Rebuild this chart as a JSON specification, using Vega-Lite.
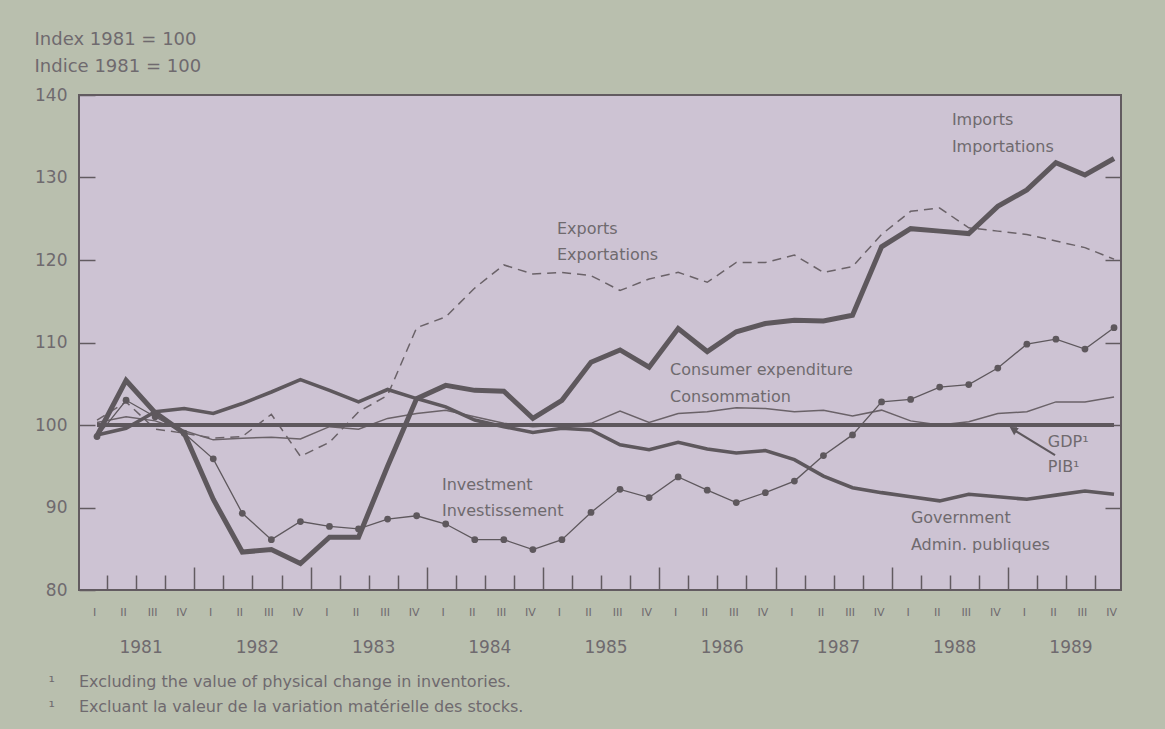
{
  "$schema": "https://vega.github.io/schema/vega-lite/v6.json",
  "width": 1042,
  "height": 495,
  "autosize": {"type": "none"},
  "padding": {"left": 79, "top": 95, "right": 44, "bottom": 139},
  "background": "#b9bfae",
  "config": {
    "view": {"fill": "#cdc3d3", "stroke": "#625b60", "strokeWidth": 2},
    "font": "DejaVu Sans",
    "axis": {"labelFont": "DejaVu Sans", "titleFont": "DejaVu Sans", "labelColor": "#6f6a6e", "titleColor": "#6f6a6e", "tickColor": "#625b60", "grid": false}
  },
  "title": {
    "text": ["Index 1981 = 100", "Indice 1981 = 100"],
    "anchor": "start",
    "frame": "bounds",
    "font": "DejaVu Sans",
    "fontSize": 18,
    "fontWeight": "normal",
    "color": "#6f6a6e",
    "lineHeight": 27,
    "offset": 10
  },
  "datasets": {
    "series": [
      {"i": 0, "GDP": 100, "Imports": 98.7, "Exports": 100.6, "Consumer": 100.3, "Investment": 98.6, "Government": 98.8},
      {"i": 1, "GDP": 100, "Imports": 105.4, "Exports": 102.8, "Consumer": 101.0, "Investment": 103.0, "Government": 99.6},
      {"i": 2, "GDP": 100, "Imports": 101.5, "Exports": 99.5, "Consumer": 100.5, "Investment": 101.0, "Government": 101.6},
      {"i": 3, "GDP": 100, "Imports": 99.0, "Exports": 99.0, "Consumer": 99.3, "Investment": 99.0, "Government": 102.0},
      {"i": 4, "GDP": 100, "Imports": 91.0, "Exports": 98.4, "Consumer": 98.2, "Investment": 95.9, "Government": 101.4},
      {"i": 5, "GDP": 100, "Imports": 84.6, "Exports": 98.6, "Consumer": 98.4, "Investment": 89.3, "Government": 102.6},
      {"i": 6, "GDP": 100, "Imports": 84.9, "Exports": 101.3, "Consumer": 98.5, "Investment": 86.1, "Government": 104.0},
      {"i": 7, "GDP": 100, "Imports": 83.2, "Exports": 96.2, "Consumer": 98.3, "Investment": 88.3, "Government": 105.5},
      {"i": 8, "GDP": 100, "Imports": 86.4, "Exports": 97.9, "Consumer": 99.8, "Investment": 87.7, "Government": 104.2},
      {"i": 9, "GDP": 100, "Imports": 86.4, "Exports": 101.6, "Consumer": 99.5, "Investment": 87.4, "Government": 102.8},
      {"i": 10, "GDP": 100, "Imports": 95.0, "Exports": 103.6, "Consumer": 100.8, "Investment": 88.6, "Government": 104.3},
      {"i": 11, "GDP": 100, "Imports": 103.2, "Exports": 111.8, "Consumer": 101.4, "Investment": 89.0, "Government": 103.2},
      {"i": 12, "GDP": 100, "Imports": 104.8, "Exports": 113.1, "Consumer": 101.8, "Investment": 88.0, "Government": 102.2},
      {"i": 13, "GDP": 100, "Imports": 104.2, "Exports": 116.6, "Consumer": 101.0, "Investment": 86.1, "Government": 100.6},
      {"i": 14, "GDP": 100, "Imports": 104.1, "Exports": 119.4, "Consumer": 100.2, "Investment": 86.1, "Government": 99.8},
      {"i": 15, "GDP": 100, "Imports": 100.8, "Exports": 118.3, "Consumer": 99.8, "Investment": 84.9, "Government": 99.1},
      {"i": 16, "GDP": 100, "Imports": 103.0, "Exports": 118.5, "Consumer": 100.0, "Investment": 86.1, "Government": 99.6},
      {"i": 17, "GDP": 100, "Imports": 107.6, "Exports": 118.1, "Consumer": 100.2, "Investment": 89.4, "Government": 99.4},
      {"i": 18, "GDP": 100, "Imports": 109.1, "Exports": 116.3, "Consumer": 101.7, "Investment": 92.2, "Government": 97.6},
      {"i": 19, "GDP": 100, "Imports": 107.0, "Exports": 117.7, "Consumer": 100.3, "Investment": 91.2, "Government": 97.0},
      {"i": 20, "GDP": 100, "Imports": 111.7, "Exports": 118.5, "Consumer": 101.4, "Investment": 93.7, "Government": 97.9},
      {"i": 21, "GDP": 100, "Imports": 108.9, "Exports": 117.3, "Consumer": 101.6, "Investment": 92.1, "Government": 97.1},
      {"i": 22, "GDP": 100, "Imports": 111.3, "Exports": 119.7, "Consumer": 102.1, "Investment": 90.6, "Government": 96.6},
      {"i": 23, "GDP": 100, "Imports": 112.3, "Exports": 119.7, "Consumer": 102.0, "Investment": 91.8, "Government": 96.9},
      {"i": 24, "GDP": 100, "Imports": 112.7, "Exports": 120.6, "Consumer": 101.6, "Investment": 93.2, "Government": 95.8},
      {"i": 25, "GDP": 100, "Imports": 112.6, "Exports": 118.5, "Consumer": 101.8, "Investment": 96.3, "Government": 93.8},
      {"i": 26, "GDP": 100, "Imports": 113.3, "Exports": 119.2, "Consumer": 101.1, "Investment": 98.8, "Government": 92.4},
      {"i": 27, "GDP": 100, "Imports": 121.6, "Exports": 123.1, "Consumer": 101.8, "Investment": 102.8, "Government": 91.8},
      {"i": 28, "GDP": 100, "Imports": 123.8, "Exports": 125.9, "Consumer": 100.5, "Investment": 103.1, "Government": 91.3},
      {"i": 29, "GDP": 100, "Imports": 123.5, "Exports": 126.3, "Consumer": 100.0, "Investment": 104.6, "Government": 90.8},
      {"i": 30, "GDP": 100, "Imports": 123.2, "Exports": 123.9, "Consumer": 100.4, "Investment": 104.9, "Government": 91.6},
      {"i": 31, "GDP": 100, "Imports": 126.5, "Exports": 123.5, "Consumer": 101.4, "Investment": 106.9, "Government": 91.3},
      {"i": 32, "GDP": 100, "Imports": 128.5, "Exports": 123.1, "Consumer": 101.6, "Investment": 109.8, "Government": 91.0},
      {"i": 33, "GDP": 100, "Imports": 131.8, "Exports": 122.3, "Consumer": 102.8, "Investment": 110.4, "Government": 91.5},
      {"i": 34, "GDP": 100, "Imports": 130.3, "Exports": 121.5, "Consumer": 102.8, "Investment": 109.2, "Government": 92.0},
      {"i": 35, "GDP": 100, "Imports": 132.3, "Exports": 120.1, "Consumer": 103.4, "Investment": 111.8, "Government": 91.6}
    ],
    "notes": [
      {"x": 15.83, "y": 123.76, "t": "Exports"},
      {"x": 15.83, "y": 120.6, "t": "Exportations"},
      {"x": 29.42, "y": 136.97, "t": "Imports"},
      {"x": 29.42, "y": 133.7, "t": "Importations"},
      {"x": 19.72, "y": 106.67, "t": "Consumer expenditure"},
      {"x": 19.72, "y": 103.4, "t": "Consommation"},
      {"x": 11.87, "y": 92.73, "t": "Investment"},
      {"x": 11.87, "y": 89.6, "t": "Investissement"},
      {"x": 28.01, "y": 88.73, "t": "Government"},
      {"x": 28.01, "y": 85.45, "t": "Admin. publiques"},
      {"x": 32.72, "y": 97.94, "t": "GDP¹"},
      {"x": 32.72, "y": 94.9, "t": "PIB¹"}
    ],
    "arrow": [
      {"x": 32.97, "y": 96.36, "x2": 31.6, "y2": 99.3}
    ],
    "arrowhead": [
      {"x": 31.53, "y": 99.5}
    ]
  },
  "layer": [
    {
      "data": {"name": "series"},
      "mark": {"type": "line", "color": "#6a6268", "strokeWidth": 1.5, "strokeDash": [9, 6]},
      "encoding": {
        "x": {"field": "i", "type": "quantitative", "scale": {"domain": [-0.62, 35.24], "nice": false, "zero": false}, "axis": null},
        "y": {"field": "Exports", "type": "quantitative", "scale": {"domain": [80, 140], "nice": false, "zero": false}, "axis": null}
      }
    },
    {
      "data": {"name": "series"},
      "mark": {"type": "line", "color": "#6a6268", "strokeWidth": 1.5},
      "encoding": {
        "x": {"field": "i", "type": "quantitative", "scale": {"domain": [-0.62, 35.24], "nice": false, "zero": false}, "axis": null},
        "y": {"field": "Consumer", "type": "quantitative", "scale": {"domain": [80, 140], "nice": false, "zero": false}, "axis": null}
      }
    },
    {
      "data": {"name": "series"},
      "mark": {"type": "line", "color": "#5e585d", "strokeWidth": 1.3},
      "encoding": {
        "x": {"field": "i", "type": "quantitative", "scale": {"domain": [-0.62, 35.24], "nice": false, "zero": false}, "axis": null},
        "y": {"field": "Investment", "type": "quantitative", "scale": {"domain": [80, 140], "nice": false, "zero": false}, "axis": null}
      }
    },
    {
      "data": {"name": "series"},
      "mark": {"type": "line", "color": "#5e585d", "strokeWidth": 3.6},
      "encoding": {
        "x": {"field": "i", "type": "quantitative", "scale": {"domain": [-0.62, 35.24], "nice": false, "zero": false}, "axis": null},
        "y": {"field": "Government", "type": "quantitative", "scale": {"domain": [80, 140], "nice": false, "zero": false}, "axis": null}
      }
    },
    {
      "data": {"name": "series"},
      "mark": {"type": "line", "color": "#5e585d", "strokeWidth": 5},
      "encoding": {
        "x": {"field": "i", "type": "quantitative", "scale": {"domain": [-0.62, 35.24], "nice": false, "zero": false}, "axis": null},
        "y": {"field": "Imports", "type": "quantitative", "scale": {"domain": [80, 140], "nice": false, "zero": false}, "axis": null}
      }
    },
    {
      "data": {"name": "series"},
      "mark": {"type": "line", "color": "#5e585d", "strokeWidth": 4},
      "encoding": {
        "x": {
          "field": "i", "type": "quantitative",
          "scale": {"domain": [-0.62, 35.24], "nice": false, "zero": false},
          "axis": {
            "orient": "bottom",
            "values": [0,1,2,3,4,5,6,7,8,9,10,11,12,13,14,15,16,17,18,19,20,21,22,23,24,25,26,27,28,29,30,31,32,33,34,35],
            "labelExpr": "['I','II','III','IV'][datum.value % 4]",
            "ticks": false, "domain": false, "grid": false,
            "labelFontSize": 11, "labelPadding": 16, "labelOffset": -3,
            "labelOverlap": false, "labelFlush": false, "labelBound": false,
            "title": null
          }
        },
        "y": {
          "field": "GDP", "type": "quantitative",
          "scale": {"domain": [80, 140], "nice": false, "zero": false},
          "axis": {
            "orient": "left",
            "values": [80, 90, 100, 110, 120, 130, 140],
            "tickSize": -16, "tickWidth": 1.5, "domain": false, "grid": false,
            "labelFontSize": 17, "labelPadding": 28,
            "title": null
          }
        }
      }
    },
    {
      "data": {"name": "series"},
      "mark": {"type": "point", "filled": true, "color": "#5e585d", "size": 46, "opacity": 1},
      "encoding": {
        "x": {
          "field": "i", "type": "quantitative",
          "scale": {"domain": [-0.62, 35.24], "nice": false, "zero": false},
          "axis": {
            "orient": "bottom",
            "values": [0.35,1.35,2.35,3.35,4.35,5.35,6.35,7.35,8.35,9.35,10.35,11.35,12.35,13.35,14.35,15.35,16.35,17.35,18.35,19.35,20.35,21.35,22.35,23.35,24.35,25.35,26.35,27.35,28.35,29.35,30.35,31.35,32.35,33.35,34.35],
            "labels": false, "domain": false, "grid": false,
            "tickSize": {"condition": {"test": "round(datum.value - 0.35) % 4 == 3", "value": -23}, "value": -15},
            "tickWidth": 1.5,
            "title": null
          }
        },
        "y": {
          "field": "Investment", "type": "quantitative",
          "scale": {"domain": [80, 140], "nice": false, "zero": false},
          "axis": {
            "orient": "right",
            "values": [90, 100, 110, 120, 130],
            "labels": false, "domain": false, "grid": false,
            "tickSize": -16, "tickWidth": 1.5,
            "title": null
          }
        }
      }
    },
    {
      "data": {"name": "notes"},
      "mark": {"type": "text", "align": "left", "baseline": "middle", "font": "DejaVu Sans", "fontSize": 16, "color": "#6f6a6e"},
      "encoding": {
        "x": {
          "field": "x", "type": "quantitative",
          "scale": {"domain": [-0.62, 35.24], "nice": false, "zero": false},
          "axis": {
            "orient": "bottom",
            "values": [1.5, 5.5, 9.5, 13.5, 17.5, 21.5, 25.5, 29.5, 33.5],
            "labelExpr": "'' + (1981 + floor(datum.value / 4))",
            "ticks": false, "domain": false, "grid": false,
            "labelFontSize": 17, "labelPadding": 49,
            "labelOverlap": false, "labelFlush": false, "labelBound": false,
            "title": ["¹\u2003\u2002Excluding the value of physical change in inventories.", "¹\u2003\u2002Excluant la valeur de la variation matérielle des stocks."],
            "titleAnchor": "start", "titleAlign": "left", "titleBaseline": "top",
            "titleX": -31, "titleY": 83, "titleFontSize": 16, "titleFontWeight": "normal", "titleLineHeight": 25
          }
        },
        "y": {
          "field": "y", "type": "quantitative",
          "scale": {"domain": [80, 140], "nice": false, "zero": false},
          "axis": null
        },
        "text": {"field": "t", "type": "nominal"}
      }
    },
    {
      "data": {"name": "arrow"},
      "mark": {"type": "rule", "color": "#5e585d", "strokeWidth": 2},
      "encoding": {
        "x": {"field": "x", "type": "quantitative", "scale": {"domain": [-0.62, 35.24], "nice": false, "zero": false}, "axis": null},
        "y": {"field": "y", "type": "quantitative", "scale": {"domain": [80, 140], "nice": false, "zero": false}, "axis": null},
        "x2": {"field": "x2"},
        "y2": {"field": "y2"}
      }
    },
    {
      "data": {"name": "arrowhead"},
      "mark": {"type": "point", "shape": "triangle-up", "angle": 302, "filled": true, "size": 90, "color": "#5e585d", "opacity": 1},
      "encoding": {
        "x": {"field": "x", "type": "quantitative", "scale": {"domain": [-0.62, 35.24], "nice": false, "zero": false}, "axis": null},
        "y": {"field": "y", "type": "quantitative", "scale": {"domain": [80, 140], "nice": false, "zero": false}, "axis": null}
      }
    }
  ],
  "resolve": {"axis": {"x": "independent", "y": "independent"}}
}
